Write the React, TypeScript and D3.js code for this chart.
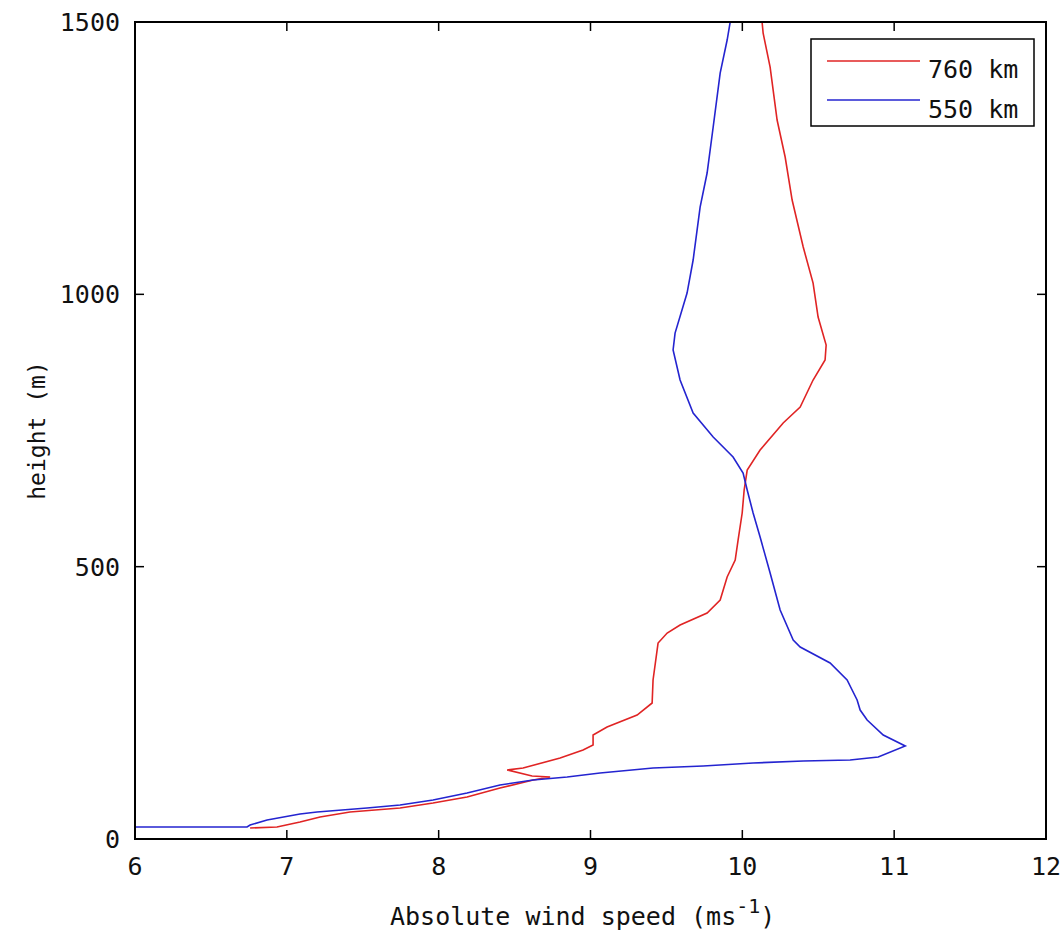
import React from "react";
import * as d3 from "d3";

const speed760: number[] = [6.758, 6.935, 7.087, 7.219, 7.416, 7.746, 7.963, 8.187, 8.404, 8.622, 8.734, 8.615, 8.451, 8.556, 8.8, 8.951, 9.017, 9.017, 9.109, 9.307, 9.406, 9.412, 9.445, 9.505, 9.59, 9.768, 9.854, 9.9, 9.953, 9.972, 9.999, 10.012, 10.032, 10.117, 10.269, 10.381, 10.466, 10.545, 10.552, 10.499, 10.466, 10.401, 10.328, 10.282, 10.229, 10.183, 10.137, 10.13];
const height760: number[] = [20.2, 22.0, 31.2, 40.4, 49.6, 56.9, 66.1, 77.1, 93.6, 108.3, 113.8, 115.7, 126.7, 130.3, 148.7, 163.4, 172.6, 190.9, 205.6, 227.6, 249.7, 291.9, 359.8, 378.2, 392.9, 414.9, 438.8, 481.0, 512.2, 548.9, 598.5, 640.7, 677.4, 714.2, 763.7, 793.1, 842.7, 879.4, 906.9, 958.3, 1020.7, 1086.8, 1173.1, 1252.1, 1320.0, 1417.3, 1479.7, 1500];

const speed550: number[] = [6.0, 6.738, 6.758, 6.87, 7.087, 7.199, 7.528, 7.746, 7.963, 8.187, 8.404, 8.622, 8.846, 9.063, 9.412, 9.742, 10.071, 10.401, 10.71, 10.895, 11.073, 10.928, 10.822, 10.776, 10.756, 10.69, 10.578, 10.381, 10.335, 10.249, 10.183, 10.117, 10.071, 10.032, 10.005, 9.939, 9.808, 9.676, 9.59, 9.544, 9.557, 9.636, 9.676, 9.722, 9.768, 9.808, 9.854, 9.9, 9.92];
const height550: number[] = [22.0, 22.0, 25.7, 34.9, 45.9, 49.6, 56.9, 62.4, 71.6, 84.5, 99.1, 108.3, 113.8, 121.2, 130.3, 134.0, 139.5, 143.2, 145.0, 150.5, 170.7, 190.9, 218.5, 236.8, 255.2, 291.9, 323.1, 352.5, 365.3, 420.4, 488.3, 554.4, 598.5, 640.7, 671.9, 701.3, 738.0, 782.1, 842.7, 897.8, 928.9, 1002.4, 1063.0, 1160.3, 1222.7, 1307.2, 1406.3, 1466.9, 1500];

const xTicks: number[] = [6, 7, 8, 9, 10, 11, 12];
const yTicks: number[] = [0, 500, 1000, 1500];
const seriesNames: string[] = ["760 km", "550 km"];
const seriesColors: string[] = ["#e02424", "#2424d0"];

const W = 1064;
const H = 938;
const L = 135;
const R = 1046;
const T = 22;
const B = 839;
const FONT = "'DejaVu Sans Mono', monospace";

export default function App() {
  const x = d3.scaleLinear().domain([6, 12]).range([L, R]);
  const y = d3.scaleLinear().domain([0, 1500]).range([B, T]);
  const line = d3
    .line<[number, number]>()
    .x((d) => x(d[0]))
    .y((d) => y(d[1]));
  const s760 = speed760.map((v, i) => [v, height760[i]] as [number, number]);
  const s550 = speed550.map((v, i) => [v, height550[i]] as [number, number]);
  const series = [s760, s550];
  const tl = 9;

  return (
    <svg
      width={W}
      height={H}
      style={{ position: "absolute", left: 0, top: 0, background: "#fff" }}
      fontFamily={FONT}
    >
      <rect x={0} y={0} width={W} height={H} fill="#fff" />
      <defs>
        <clipPath id="plotclip">
          <rect x={L} y={T} width={R - L} height={B - T} />
        </clipPath>
      </defs>
      <g clipPath="url(#plotclip)">
        {series.map((s, i) => (
          <path
            key={i}
            d={line(s) || ""}
            fill="none"
            stroke={seriesColors[i]}
            strokeWidth={1.6}
          />
        ))}
      </g>
      {/* ticks */}
      {xTicks.map((t) => (
        <g key={"xt" + t}>
          <line x1={x(t)} x2={x(t)} y1={B} y2={B - tl} stroke="#000" strokeWidth={1.5} />
          <line x1={x(t)} x2={x(t)} y1={T} y2={T + tl} stroke="#000" strokeWidth={1.5} />
          <text x={x(t)} y={875} textAnchor="middle" fontSize={25} fill="#111">
            {t}
          </text>
        </g>
      ))}
      {yTicks.map((t) => (
        <g key={"yt" + t}>
          <line x1={L} x2={L + tl} y1={y(t)} y2={y(t)} stroke="#000" strokeWidth={1.5} />
          <line x1={R} x2={R - tl} y1={y(t)} y2={y(t)} stroke="#000" strokeWidth={1.5} />
          <text x={120} y={y(t) + 9} textAnchor="end" fontSize={25} fill="#111">
            {t}
          </text>
        </g>
      ))}
      <rect x={L} y={T} width={R - L} height={B - T} fill="none" stroke="#000" strokeWidth={2} />
      {/* axis labels */}
      <text x={390} y={925} fontSize={25} fill="#111">
        Absolute wind speed (ms
        <tspan dy={-12} fontSize={20}>-1</tspan>
        <tspan dy={12}>)</tspan>
      </text>
      <text
        transform={`translate(45, ${(T + B) / 2}) rotate(-90)`}
        textAnchor="middle"
        fontSize={23}
        fill="#111"
      >
        height (m)
      </text>
      {/* legend */}
      <rect x={811} y={39} width={223} height={87} fill="#fff" stroke="#000" strokeWidth={1.5} />
      {seriesNames.map((n, i) => (
        <g key={n}>
          <line x1={827} x2={920} y1={61 + i * 39} y2={61 + i * 39} stroke={seriesColors[i]} strokeWidth={1.6} />
          <text x={928} y={78 + i * 40} fontSize={25} fill="#111">
            {n}
          </text>
        </g>
      ))}
    </svg>
  );
}
